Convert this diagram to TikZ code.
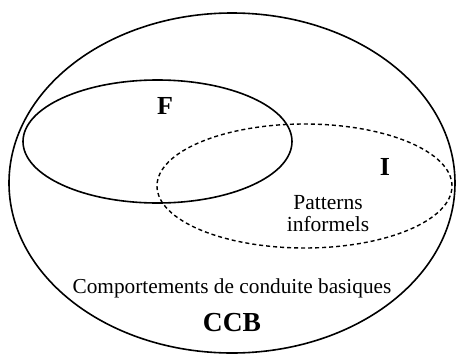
\documentclass[tikz,border=0pt]{standalone}
\usepackage{fontspec}
\setmainfont{Liberation Serif}
\usetikzlibrary{shapes.geometric}

\begin{document}
\begin{tikzpicture}[x=1pt, y=-1pt,
        zone/.style={ellipse, draw, line width=1.6pt, inner sep=0pt},
        lettre/.style={font=\bfseries\fontsize{26}{26}\selectfont}]
        \useasboundingbox (0,0) rectangle (456,354);

        % Ensembles
        \node[zone, minimum width=446pt, minimum height=340pt] (ccb) at (232,183) {};
        \node[zone, minimum width=269pt, minimum height=123pt] (formel) at (157.5,141.5) {};
        \node[zone, dash pattern=on 4pt off 3pt, line width=1.4pt, minimum width=295pt, minimum height=124pt] (informel) at (304.5,186) {};

        % Etiquettes
        \node[lettre] (f) at (165,106) {F};
        \node[lettre] (i) at (385,167) {I};
        \node[font=\fontsize{21.5}{22}\selectfont, align=center] (patterns) at (328,214) {Patterns\\informels};
        \node[font=\fontsize{21.3}{21}\selectfont] (comp) at (232,288) {Comportements de conduite basiques};
        \node[font=\bfseries\fontsize{27.5}{27}\selectfont] (sigle) at (232,323) {CCB};
    \end{tikzpicture}
\end{document}
